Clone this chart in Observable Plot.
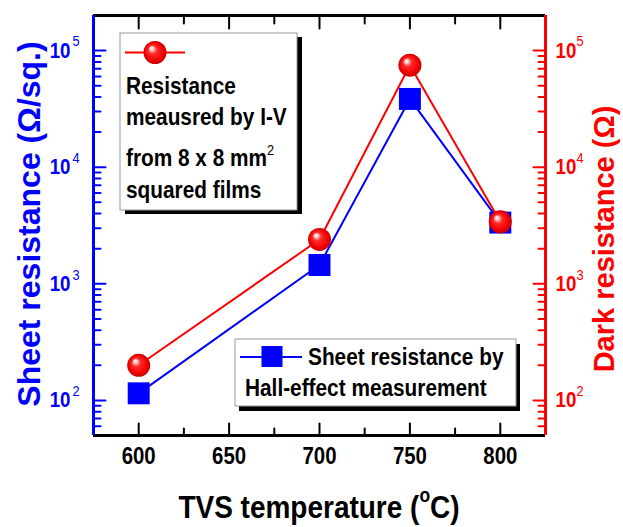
<!DOCTYPE html>
<html><head><meta charset="utf-8">
<script src="https://cdn.jsdelivr.net/npm/d3@7"></script>
<script src="https://cdn.jsdelivr.net/npm/@observablehq/plot@0.6"></script>
<style>body{margin:0;background:#fff} svg{display:block}</style>
</head><body><div id="chart"></div>
<script>
// ---- data ----
const temperatures = [600, 700, 750, 800];
const sheetResistance = [115, 1450, 38500, 3350];
const darkResistance = [200, 2400, 75000, 3400];
const xTicks = [600, 650, 700, 750, 800];
const xMinorTicks = [625, 675, 725, 775];
const yTickExponents = [2, 3, 4, 5];
const minorMantissas = [2, 3, 4, 5, 6, 7, 8, 9];
const xDomain = [575, 825];
const yDomain = [50, 2e5];
const xTitle = ["TVS temperature (", "o", "C)"];
const leftTitle = "Sheet resistance (Ω/sq.)";
const rightTitle = "Dark resistance (Ω)";
const redLegendLines = ["Resistance", "meausred by I-V", "from 8 x 8 mm", "squared films"];
const blueLegendLines = ["Sheet resistance by", "Hall-effect measurement"];

// ---- derived ----
const blue = "#0000ff", red = "#ff0000";
const font = "'Liberation Sans', Arial, Helvetica, sans-serif";
const SX = 0.85; // horizontal condensing of the lettering
const sheet = temperatures.map((t, i) => ({t, v: sheetResistance[i]}));
const dark = temperatures.map((t, i) => ({t, v: darkResistance[i]}));
const yMajor = yTickExponents.map(e => 10 ** e);
const yMinor = yMajor.map(v => v / 10)
  .flatMap(d => minorMantissas.map(m => m * d)).filter(v => v > yDomain[0]);
const line = {draw(ctx, l) { ctx.moveTo(0, 0); ctx.lineTo(0, -l); }};

function ticks(data, accessor, anchor, rotate, length, stroke) {
  const o = {frameAnchor: anchor, rotate, length, anchor: "start", shape: line, stroke, strokeWidth: 2};
  o[accessor] = d => d;
  return Plot.vector(data, o);
}

const plot = Plot.plot({
  width: 623, height: 527,
  marginLeft: 93, marginRight: 78, marginTop: 15, marginBottom: 92,
  x: {domain: xDomain, axis: null},
  y: {type: "log", domain: yDomain, axis: null},
  style: {fontFamily: font, fontWeight: "bold", background: "white", overflow: "visible"},
  marks: [
    // axis ticks (inward)
    ticks(yMajor, "y", "left", 90, 12, blue),
    ticks(yMinor, "y", "left", 90, 7, blue),
    ticks(yMajor, "y", "right", -90, 12, red),
    ticks(yMinor, "y", "right", -90, 7, red),
    ticks(xTicks, "x", "bottom", 0, 12, "black"),
    ticks(xMinorTicks, "x", "bottom", 0, 7, "black"),
    ticks(xTicks, "x", "top", 180, 13, "black"),
    ticks(xMinorTicks, "x", "top", 180, 8, "black"),
    // frame
    Plot.ruleY([yDomain[0]], {stroke: "black", strokeWidth: 3}),
    Plot.ruleY([yDomain[1]], {stroke: "black", strokeWidth: 3}),
    Plot.ruleX([xDomain[0]], {stroke: blue, strokeWidth: 3}),
    Plot.ruleX([xDomain[1]], {stroke: red, strokeWidth: 3}),
    // tick labels
    Plot.text(yMajor, {y: d => d, text: () => "10", frameAnchor: "left", textAnchor: "end", dx: -23, fontSize: 22, fill: blue}),
    Plot.text(yTickExponents, {y: e => 10 ** e, text: e => String(e), frameAnchor: "left", textAnchor: "start", dx: -21, dy: -9, fontSize: 15, fontWeight: "normal", fill: blue}),
    Plot.text(yMajor, {y: d => d, text: () => "10", frameAnchor: "right", textAnchor: "start", dx: 10, fontSize: 22, fill: red}),
    Plot.text(yTickExponents, {y: e => 10 ** e, text: e => String(e), frameAnchor: "right", textAnchor: "start", dx: 31, dy: -9, fontSize: 15, fontWeight: "normal", fill: red}),
    Plot.text(xTicks, {x: d => d, text: d => String(d), frameAnchor: "bottom", dy: 28, fontSize: 24, fill: "black"}),
    // data
    Plot.line(sheet, {x: "t", y: "v", stroke: blue, strokeWidth: 2}),
    Plot.dot(sheet, {x: "t", y: "v", symbol: "square", r: 12.4, fill: blue, stroke: "none"}),
    Plot.line(dark, {x: "t", y: "v", stroke: red, strokeWidth: 2}),
    Plot.dot(dark, {x: "t", y: "v", r: 11.5, fill: "url(#ball)", stroke: "none"})
  ]
});

const svg = d3.select(plot);
// condense the tick-label lettering like the reference
svg.selectAll('g[aria-label="text"] text').each(function() {
  const tr = this.getAttribute("transform");
  if (tr) this.setAttribute("transform", tr + ` scale(${SX},1)`);
  else {
    const x = +this.getAttribute("x") || 0, y = +this.getAttribute("y") || 0;
    this.removeAttribute("x"); this.removeAttribute("y");
    this.setAttribute("transform", `translate(${x},${y}) scale(${SX},1)`);
  }
});

// gradient for the 3D balls
const defs = svg.insert("defs", ":first-child");
const g = defs.append("radialGradient").attr("id", "ball")
  .attr("cx", "50%").attr("cy", "50%").attr("r", "50%").attr("fx", "33%").attr("fy", "30%");
[[0, "#ffffff"], [0.14, "#ffd6d6"], [0.38, "#ff2a2a"], [0.8, "#f00000"], [1, "#c40000"]]
  .forEach(([o, c]) => g.append("stop").attr("offset", o).attr("stop-color", c));

function label(parent, x, y, str, size, anchor = "start") {
  return parent.append("text").attr("transform", `translate(${x},${y}) scale(${SX},1)`)
    .attr("font-size", size).attr("text-anchor", anchor).attr("fill", "black").text(str);
}

const T = svg.append("g").attr("font-family", font).attr("font-weight", "bold");
// x title with superscript o
const xt = T.append("text").attr("transform", `translate(319,518) scale(0.875,1)`).attr("text-anchor", "middle")
  .attr("font-size", 32).attr("fill", "black");
xt.append("tspan").text(xTitle[0]);
xt.append("tspan").attr("font-size", 20).attr("dy", -16).text(xTitle[1]);
xt.append("tspan").attr("dy", 16).text(xTitle[2]);
// y titles
T.append("text").attr("transform", "translate(28,224) rotate(-90)").attr("text-anchor", "middle")
  .attr("dy", "0.36em").attr("font-size", 32).attr("fill", blue).text(leftTitle);
T.append("text").attr("transform", "translate(604,239) rotate(-90)").attr("text-anchor", "middle")
  .attr("dy", "0.36em").attr("font-size", 29).attr("fill", red).text(rightTitle);

// legend: red
const L1 = svg.append("g").attr("font-family", font).attr("font-weight", "bold");
L1.append("rect").attr("x", 125).attr("y", 37).attr("width", 177).attr("height", 177).attr("fill", "black");
L1.append("rect").attr("x", 120).attr("y", 33).attr("width", 177).attr("height", 177).attr("fill", "white").attr("stroke", "#999").attr("stroke-width", 1);
L1.append("line").attr("x1", 125).attr("x2", 185).attr("y1", 52.5).attr("y2", 52.5).attr("stroke", red).attr("stroke-width", 2);
L1.append("circle").attr("cx", 155).attr("cy", 52.5).attr("r", 11.5).attr("fill", "url(#ball)");
const redBaselines = [93.5, 124.5, 166, 198];
redLegendLines.forEach((t, i) => {
  const tx = label(L1, 126, redBaselines[i], t, 24.5);
  if (i === 2) tx.append("tspan").attr("font-size", 15).attr("font-weight", "normal").attr("dy", -11).text("2");
});

// legend: blue
const L2 = svg.append("g").attr("font-family", font).attr("font-weight", "bold");
L2.append("rect").attr("x", 239).attr("y", 344).attr("width", 281).attr("height", 67).attr("fill", "black");
L2.append("rect").attr("x", 235).attr("y", 339).attr("width", 281).attr("height", 67).attr("fill", "white").attr("stroke", "#999").attr("stroke-width", 1);
L2.append("line").attr("x1", 240).attr("x2", 302).attr("y1", 357).attr("y2", 357).attr("stroke", blue).attr("stroke-width", 2);
L2.append("rect").attr("x", 261.5).attr("y", 346).attr("width", 21).attr("height", 21).attr("fill", blue);
label(L2, 308, 365, blueLegendLines[0], 24.5);
label(L2, 245, 396, blueLegendLines[1], 24.5);

document.getElementById("chart").appendChild(plot);
</script>
</body></html>
